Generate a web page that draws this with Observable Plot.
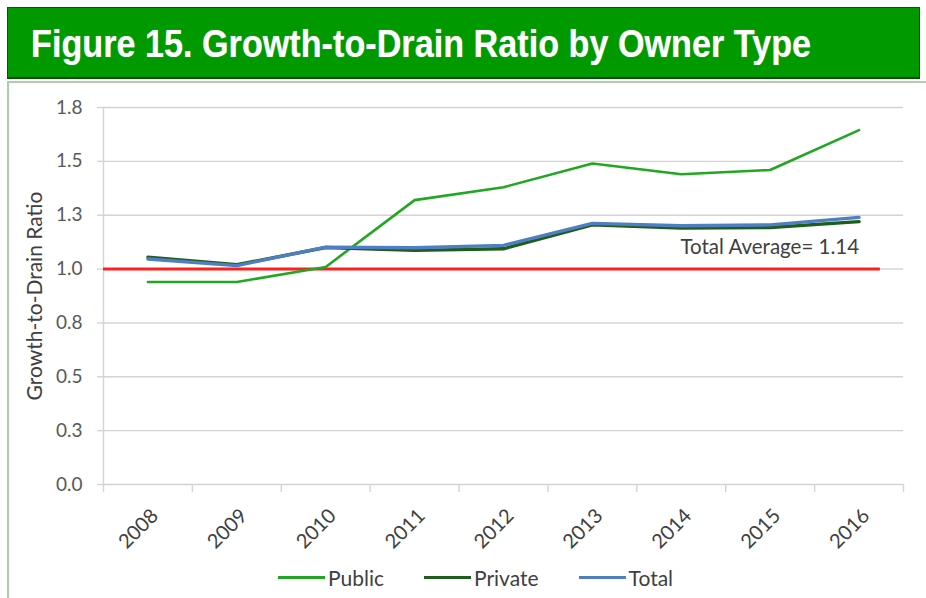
<!DOCTYPE html>
<html><head><meta charset="utf-8">
<script src="https://cdn.jsdelivr.net/npm/d3@7"></script>
<script src="https://cdn.jsdelivr.net/npm/@observablehq/plot@0.6"></script>
<style>
body{margin:0;width:926px;height:598px;background:#fff;position:relative;overflow:hidden;font-family:Lato,"Open Sans",sans-serif;}
#banner{position:absolute;left:7px;top:7px;width:911px;height:69px;background:#009a00;border:1px solid #005c00;border-bottom:2px solid #004a00;}
#title{position:absolute;left:23px;top:14px;margin:0;font:bold 38px "Liberation Sans",Arial,sans-serif;line-height:44px;color:#fff;white-space:nowrap;transform-origin:0 0;text-shadow:0 0 1px rgba(255,255,255,0.4);}
#box{position:absolute;left:7px;top:81px;right:0;bottom:0;border-left:2px solid #a9cfa9;border-top:2px solid #b5cab5;}
#chart{position:absolute;left:0;top:86px;}
#legend{position:absolute;left:278px;top:565px;display:flex;align-items:center;font-size:21px;color:#404040;}
#legend .item{display:flex;align-items:center;margin-right:40px;}
#legend .sw{width:47px;height:3px;margin-right:3px;}
</style></head>
<body>
<div id="box"></div>
<div id="banner"><h1 id="title">Figure 15. Growth-to-Drain Ratio by Owner Type</h1></div>
<div id="chart"></div>
<div id="legend"></div>
<script>
const years = [2008, 2009, 2010, 2011, 2012, 2013, 2014, 2015, 2016];
const publicVals  = [0.94, 0.94, 1.01, 1.32, 1.38, 1.49, 1.44, 1.46, 1.645];
const privateVals = [1.055, 1.02, 1.10, 1.087, 1.094, 1.205, 1.19, 1.193, 1.22];
const totalVals   = [1.047, 1.016, 1.102, 1.099, 1.11, 1.212, 1.201, 1.205, 1.24];
const seriesNames  = ["Public", "Private", "Total"];
const seriesColors = ["#22a722", "#1d5e1d", "#4f7fc2"];
const yTicks      = [0, 0.25, 0.5, 0.75, 1.0, 1.25, 1.5, 1.75];
const yTickLabels = ["0.0", "0.3", "0.5", "0.8", "1.0", "1.3", "1.5", "1.8"];
const yTitle = "Growth-to-Drain Ratio";
const avgLine = [{value: 1.0, from: 2007.5, to: 2016.24}];
const annotations = [{label: "Total Average= 1.14", year: 2016, value: 1.10}];

// fit title width
const t = document.getElementById("title");
t.style.transform = `scaleX(${780 / t.scrollWidth})`;

const seriesVals = [publicVals, privateVals, totalVals];
const rows = seriesNames.flatMap((s, k) => years.map((yr, i) => ({series: s, year: yr, value: seriesVals[k][i]})));
const xBounds = years.map(y => y - 0.5).concat([years[years.length - 1] + 0.5]);
const yLabelMap = new Map(yTicks.map((v, i) => [v, yTickLabels[i]]));
const widths = {Public: 2.6, Private: 3.4, Total: 3.4};

const chart = Plot.plot({
  width: 926, height: 472,
  marginLeft: 103, marginRight: 23, marginTop: 21, marginBottom: 74,
  x: {domain: [xBounds[0], xBounds[xBounds.length - 1]]},
  y: {domain: [0, 1.75]},
  color: {domain: seriesNames, range: seriesColors},
  style: {fontFamily: "Lato, 'Open Sans', sans-serif", fontSize: "19px", color: "#595959", background: "transparent"},
  marks: [
    Plot.gridY(yTicks, {stroke: "#d4d4d4", strokeOpacity: 1, strokeWidth: 1.4}),
    Plot.ruleX([xBounds[0]], {stroke: "#d4d4d4", strokeWidth: 1.4}),
    Plot.axisY(yTicks, {tickSize: 6, stroke: "#d4d4d4", strokeWidth: 1.4, tickPadding: 15, fill: "#595959",
      tickFormat: d => yLabelMap.get(d), label: null}),
    Plot.axisY(yTicks, {tickSize: 0, tickFormat: () => "", label: yTitle, labelAnchor: "center", labelArrow: "none",
      labelOffset: 76, fill: "#404040", fontSize: 21}),
    Plot.axisX(xBounds, {tickSize: 8, stroke: "#d4d4d4", strokeWidth: 1.4, tickFormat: () => "", label: null}),
    Plot.axisX(years, {tickSize: 0, tickRotate: -45, tickPadding: 28, dx: 7, fill: "#404040", fontSize: 20,
      tickFormat: d => String(d), label: null}),
    Plot.ruleY(avgLine, {y: "value", x1: "from", x2: "to", stroke: "#ff1f1f", strokeWidth: 3}),
    ...["Public", "Private", "Total"].map(s =>
      Plot.lineY(rows.filter(r => r.series === s), {x: "year", y: "value", stroke: "series", strokeWidth: widths[s]})),
    Plot.text(annotations, {x: "year", y: "value", text: "label", textAnchor: "end", fill: "#404040", fontSize: 20.5})
  ]
});
document.getElementById("chart").appendChild(chart);

const legend = document.getElementById("legend");
seriesNames.forEach((s, i) => {
  const item = document.createElement("div");
  item.className = "item";
  item.innerHTML = `<div class="sw" style="background:${seriesColors[i]}"></div><span>${s}</span>`;
  legend.appendChild(item);
});
</script>
</body></html>
